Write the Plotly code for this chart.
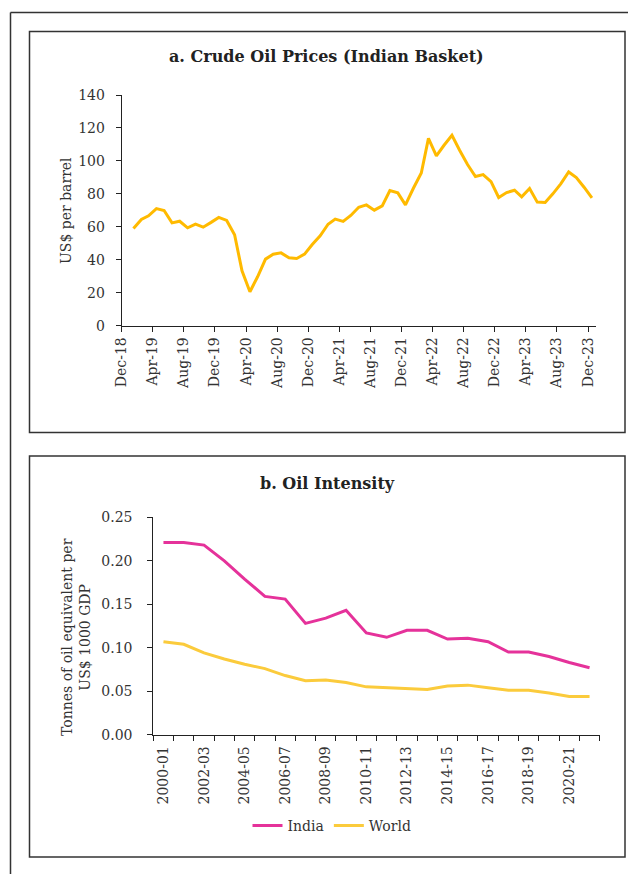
import pandas as pd
import plotly.graph_objects as go

W, H = 628, 874

# a. Crude oil prices (Indian basket), US$ per barrel, Jan-19 .. Dec-23
months = pd.date_range("2019-01-01", periods=60, freq="MS") + pd.Timedelta(days=15)
crude_price = [
    59.0, 64.5, 66.7, 71.1, 69.9, 62.4, 63.4, 59.4, 61.6, 59.8, 62.7, 65.7,
    63.9, 55.2, 33.3, 20.6, 29.7, 40.4, 43.4, 44.2, 41.2, 40.8, 43.4, 49.3,
    54.5, 61.6, 64.7, 63.3, 66.9, 71.9, 73.3, 70.1, 72.7, 82.0, 80.6, 73.3,
    83.4, 92.7, 113.7, 103.0, 109.5, 115.6, 106.5, 97.8, 90.5, 91.7, 87.4, 77.8,
    80.8, 82.2, 78.2, 83.3, 75.0, 74.8, 80.0, 86.1, 93.3, 89.9, 83.9, 77.6,
]

# b. Oil intensity, tonnes of oil equivalent per US$ 1000 GDP
years = [
    "2000-01", "2001-02", "2002-03", "2003-04", "2004-05", "2005-06",
    "2006-07", "2007-08", "2008-09", "2009-10", "2010-11", "2011-12",
    "2012-13", "2013-14", "2014-15", "2015-16", "2016-17", "2017-18",
    "2018-19", "2019-20", "2020-21", "2021-22",
]
india = [
    0.221, 0.221, 0.218, 0.200, 0.179, 0.159, 0.156, 0.128, 0.134, 0.143, 0.117,
    0.112, 0.120, 0.120, 0.110, 0.111, 0.107, 0.095, 0.095, 0.090, 0.083, 0.077,
]
world = [
    0.107, 0.104, 0.094, 0.087, 0.081, 0.076, 0.068, 0.062, 0.063, 0.060, 0.055,
    0.054, 0.053, 0.052, 0.056, 0.057, 0.054, 0.051, 0.051, 0.048, 0.044, 0.044,
]


def px(x):
    return x / W


def py(y):
    return 1 - y / H


FONT = "DejaVu Serif"
TXT = "#333333"

fig = go.Figure()
fig.add_trace(go.Scatter(x=months, y=crude_price, mode="lines",
                         line=dict(color="#FFBA00", width=3),
                         showlegend=False, xaxis="x", yaxis="y"))
xi = list(range(len(years)))
fig.add_trace(go.Scatter(x=xi, y=india, mode="lines", name="India",
                         line=dict(color="#E5329A", width=3),
                         xaxis="x2", yaxis="y2"))
fig.add_trace(go.Scatter(x=xi, y=world, mode="lines", name="World",
                         line=dict(color="#FBCB3C", width=3),
                         xaxis="x2", yaxis="y2"))

axis_common = dict(showgrid=False, zeroline=False, showline=True, automargin=False,
                   linecolor="#222222", linewidth=1, ticks="outside",
                   ticklen=5, tickcolor="#222222",
                   tickfont=dict(family=FONT, size=14, color=TXT))

fig.update_layout(
    template="none",
    width=W, height=H,
    margin=dict(l=0, r=0, t=0, b=0, pad=0),
    paper_bgcolor="white", plot_bgcolor="white",
    font=dict(family=FONT, size=14, color=TXT),
    xaxis=dict(axis_common, domain=[px(121.7), px(596)], anchor="y",
               type="date", range=["2018-12-01", "2024-01-01"],
               tick0="2018-12-01", dtick="M4", tickformat="%b-%y",
               tickangle=-90),
    yaxis=dict(axis_common, domain=[py(325.7), py(95)], anchor="x",
               range=[0, 140], dtick=20, ticklabelstandoff=8),
    xaxis2=dict(axis_common, domain=[px(153.3), px(599.7)], anchor="y2",
                range=[-0.5, 21.5], tickvals=xi[::2], ticktext=years[::2],
                ticks="", tickangle=-90, ticklabelstandoff=5,
                minor=dict(ticks="outside", tick0=-0.5, dtick=1, ticklen=5,
                           tickcolor="#222222")),
    yaxis2=dict(axis_common, domain=[py(734.7), py(517.3)], anchor="x2",
                range=[0, 0.25], dtick=0.05, tickformat=".2f",
                ticklabelstandoff=12),
    legend=dict(orientation="h", x=px(332), xanchor="center",
                y=py(826), yanchor="middle", bgcolor="rgba(0,0,0,0)",
                font=dict(family=FONT, size=14, color=TXT)),
)

# frames
frame = dict(color="#333333", width=1.5)
fig.add_shape(type="line", xref="paper", yref="paper",
              x0=px(10.5), x1=1, y0=py(12.5), y1=py(12.5), line=frame)
fig.add_shape(type="line", xref="paper", yref="paper",
              x0=px(10.5), x1=px(10.5), y0=py(12.5), y1=0, line=frame)
for top, bottom in [(31.5, 432.5), (456, 857)]:
    fig.add_shape(type="rect", xref="paper", yref="paper",
                  x0=px(29.5), x1=px(625), y0=py(top), y1=py(bottom), line=frame)


def label(text, x, y, size=14, color=TXT, angle=0):
    fig.add_annotation(text=text, x=px(x), y=py(y), xref="paper", yref="paper",
                       xanchor="center", yanchor="middle", textangle=angle,
                       showarrow=False, font=dict(size=size, color=color))


label("<b>a. Crude Oil Prices (Indian Basket)</b>", 326, 57, size=16, color="#222222")
label("<b>b. Oil Intensity</b>", 327, 483, size=16, color="#222222")
label("US$ per barrel", 66, 211, angle=-90)
label("Tonnes of oil equivalent per<br>US$ 1000 GDP", 76, 637, angle=-90)

# drop the default page margin so the figure fills the window exactly
fig.write_html("out.html", config={"displayModeBar": False},
               post_script="document.body.style.margin='0';"
                           "document.body.style.overflow='hidden';")
